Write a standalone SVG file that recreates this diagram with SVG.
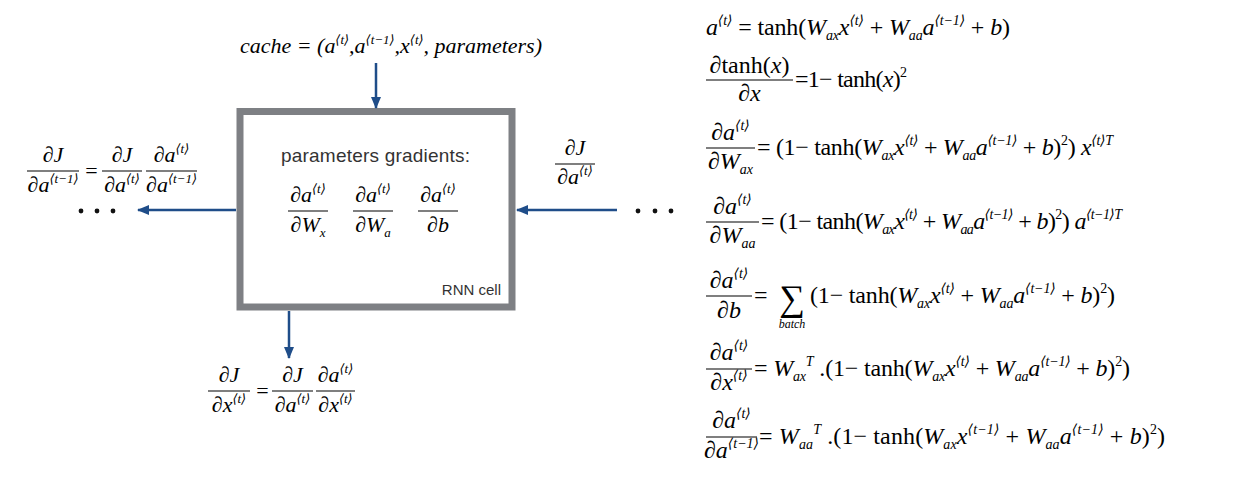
<svg xmlns="http://www.w3.org/2000/svg" width="1237" height="484" viewBox="0 0 1237 484">
<style>
.m{font-family:"Liberation Serif","DejaVu Serif",serif;fill:#000}
.r{font-size:24px}
.f{font-size:22px}
.i{font-style:italic}
.sp{font-size:14px}
.sb{font-size:14px}
.s2{font-size:13px}
.bar{stroke:#000;stroke-width:1.2}
.con{stroke:#1f4d89;stroke-width:2.5;fill:none}
.dot{fill:#111}
.sans{font-family:"Liberation Sans","Helvetica",Arial,sans-serif;fill:#333}
</style>
<defs>
<marker id="ah" viewBox="0 0 12 10" refX="11" refY="5" markerWidth="12" markerHeight="10" orient="auto" markerUnits="userSpaceOnUse"><path d="M0,0 L12,5 L0,10 z" fill="#1f4d89"/></marker>
</defs>
<rect width="1237" height="484" fill="#fff"/>

<g id="rnn-cell">
<rect x="240" y="111.5" width="272" height="195.5" fill="#fff" stroke="#7e8084" stroke-width="7"/>
<text class="sans" x="281" y="162" font-size="19" textLength="189">parameters gradients:</text>
<text class="m f" x="308" y="202" text-anchor="middle">∂<tspan class="i">a</tspan><tspan class="s2 i" dy="-9">⟨t⟩</tspan></text>
<line class="bar" x1="288" y1="211" x2="328" y2="211"/>
<text class="m f" x="308" y="232" text-anchor="middle">∂<tspan class="i">W</tspan><tspan class="s2 i" dy="5">x</tspan></text>
<text class="m f" x="373" y="202" text-anchor="middle">∂<tspan class="i">a</tspan><tspan class="s2 i" dy="-9">⟨t⟩</tspan></text>
<line class="bar" x1="353" y1="211" x2="393" y2="211"/>
<text class="m f" x="373" y="232" text-anchor="middle">∂<tspan class="i">W</tspan><tspan class="s2 i" dy="5">a</tspan></text>
<text class="m f" x="438" y="202" text-anchor="middle">∂<tspan class="i">a</tspan><tspan class="s2 i" dy="-9">⟨t⟩</tspan></text>
<line class="bar" x1="418" y1="211" x2="458" y2="211"/>
<text class="m f" x="438" y="232" text-anchor="middle">∂<tspan class="i">b</tspan></text>
<text class="sans" x="501" y="295" font-size="15" text-anchor="end">RNN cell</text>
</g>

<g id="cache-label">
<text class="m i" x="240" y="53" font-size="22" textLength="302">cache = (a<tspan class="s2" dy="-9">⟨t⟩</tspan><tspan dy="9">,a</tspan><tspan class="s2" dy="-9">⟨t−1⟩</tspan><tspan dy="9">,x</tspan><tspan class="s2" dy="-9">⟨t⟩</tspan><tspan dy="9">, parameters)</tspan></text>
</g>

<g id="dJ-da-prev">
<text class="m f" x="53" y="162" text-anchor="middle">∂<tspan class="i">J</tspan></text>
<line class="bar" x1="27" y1="171" x2="79" y2="171"/>
<text class="m f" x="53" y="192" text-anchor="middle">∂<tspan class="i">a</tspan><tspan class="s2 i" dy="-9">⟨t−1⟩</tspan></text>
<text class="m f" x="91.5" y="178" text-anchor="middle">=</text>
<text class="m f" x="122" y="162" text-anchor="middle">∂<tspan class="i">J</tspan></text>
<line class="bar" x1="102" y1="171" x2="142" y2="171"/>
<text class="m f" x="122" y="192" text-anchor="middle">∂<tspan class="i">a</tspan><tspan class="s2 i" dy="-9">⟨t⟩</tspan></text>
<text class="m f" x="171.5" y="162" text-anchor="middle">∂<tspan class="i">a</tspan><tspan class="s2 i" dy="-9">⟨t⟩</tspan></text>
<line class="bar" x1="146" y1="171" x2="197" y2="171"/>
<text class="m f" x="171.5" y="192" text-anchor="middle">∂<tspan class="i">a</tspan><tspan class="s2 i" dy="-9">⟨t−1⟩</tspan></text>
</g>

<g id="dJ-dx">
<text class="m f" x="229" y="382" text-anchor="middle">∂<tspan class="i">J</tspan></text>
<line class="bar" x1="208" y1="391" x2="250" y2="391"/>
<text class="m f" x="229" y="412" text-anchor="middle">∂<tspan class="i">x</tspan><tspan class="s2 i" dy="-9">⟨t⟩</tspan></text>
<text class="m f" x="262.5" y="398" text-anchor="middle">=</text>
<text class="m f" x="292.5" y="382" text-anchor="middle">∂<tspan class="i">J</tspan></text>
<line class="bar" x1="272" y1="391" x2="313" y2="391"/>
<text class="m f" x="292.5" y="412" text-anchor="middle">∂<tspan class="i">a</tspan><tspan class="s2 i" dy="-9">⟨t⟩</tspan></text>
<text class="m f" x="335.5" y="382" text-anchor="middle">∂<tspan class="i">a</tspan><tspan class="s2 i" dy="-9">⟨t⟩</tspan></text>
<line class="bar" x1="316" y1="391" x2="355" y2="391"/>
<text class="m f" x="335.5" y="412" text-anchor="middle">∂<tspan class="i">x</tspan><tspan class="s2 i" dy="-9">⟨t⟩</tspan></text>
</g>

<g id="dJ-da-in">
<text class="m f" x="575" y="155" text-anchor="middle">∂<tspan class="i">J</tspan></text>
<line class="bar" x1="555" y1="164" x2="595" y2="164"/>
<text class="m f" x="575" y="184" text-anchor="middle">∂<tspan class="i">a</tspan><tspan class="s2 i" dy="-9">⟨t⟩</tspan></text>
</g>

<g id="dots-left">
<circle class="dot" cx="81" cy="211" r="2.4"/><circle class="dot" cx="97" cy="211" r="2.4"/><circle class="dot" cx="113" cy="211" r="2.4"/>
</g>
<g id="dots-right">
<circle class="dot" cx="638" cy="211" r="2.4"/><circle class="dot" cx="655" cy="211" r="2.4"/><circle class="dot" cx="671" cy="211" r="2.4"/>
</g>

<g id="connectors">
<line class="con" x1="376" y1="63" x2="376" y2="108" marker-end="url(#ah)"/>
<line class="con" x1="236" y1="210" x2="138" y2="210" marker-end="url(#ah)"/>
<line class="con" x1="617" y1="210" x2="517" y2="210" marker-end="url(#ah)"/>
<line class="con" x1="289" y1="311" x2="289" y2="358" marker-end="url(#ah)"/>
</g>

<g id="equations">
<text class="m r" x="706" y="35" textLength="304"><tspan class="i">a</tspan><tspan class="sp i" dy="-10">⟨t⟩</tspan><tspan dy="10"> = tanh(</tspan><tspan class="i">W</tspan><tspan class="sb i" dy="5">ax</tspan><tspan class="i" dy="-5">x</tspan><tspan class="sp i" dy="-10">⟨t⟩</tspan><tspan dy="10"> + </tspan><tspan class="i">W</tspan><tspan class="sb i" dy="5">aa</tspan><tspan class="i" dy="-5">a</tspan><tspan class="sp i" dy="-10">⟨t−1⟩</tspan><tspan dy="10"> + </tspan><tspan class="i">b</tspan>)</text>

<text class="m r" x="749.5" y="73" text-anchor="middle">∂tanh(<tspan class="i">x</tspan>)</text>
<line class="bar" x1="706" y1="80" x2="793" y2="80"/>
<text class="m r" x="749.5" y="101" text-anchor="middle">∂<tspan class="i">x</tspan></text>
<text class="m r" x="795" y="87" textLength="112">=1− tanh(<tspan class="i">x</tspan>)<tspan class="sp" dy="-10">2</tspan></text>

<text class="m r" x="730.5" y="140" text-anchor="middle">∂<tspan class="i">a</tspan><tspan class="sp i" dy="-10">⟨t⟩</tspan></text>
<line class="bar" x1="706" y1="148" x2="755" y2="148"/>
<text class="m r" x="730.5" y="169" text-anchor="middle">∂<tspan class="i">W</tspan><tspan class="sb i" dy="5">ax</tspan></text>
<text class="m r" x="757" y="155" textLength="356">= (1− tanh(<tspan class="i">W</tspan><tspan class="sb i" dy="5">ax</tspan><tspan class="i" dy="-5">x</tspan><tspan class="sp i" dy="-10">⟨t⟩</tspan><tspan dy="10"> + </tspan><tspan class="i">W</tspan><tspan class="sb i" dy="5">aa</tspan><tspan class="i" dy="-5">a</tspan><tspan class="sp i" dy="-10">⟨t−1⟩</tspan><tspan dy="10"> + </tspan><tspan class="i">b</tspan>)<tspan class="sp" dy="-10">2</tspan><tspan dy="10">) </tspan><tspan class="i">x</tspan><tspan class="sp i" dy="-10">⟨t⟩T</tspan></text>

<text class="m r" x="732.5" y="214" text-anchor="middle">∂<tspan class="i">a</tspan><tspan class="sp i" dy="-10">⟨t⟩</tspan></text>
<line class="bar" x1="706" y1="222" x2="759" y2="222"/>
<text class="m r" x="732.5" y="243" text-anchor="middle">∂<tspan class="i">W</tspan><tspan class="sb i" dy="5">aa</tspan></text>
<text class="m r" x="761" y="229" textLength="361">= (1− tanh(<tspan class="i">W</tspan><tspan class="sb i" dy="5">ax</tspan><tspan class="i" dy="-5">x</tspan><tspan class="sp i" dy="-10">⟨t⟩</tspan><tspan dy="10"> + </tspan><tspan class="i">W</tspan><tspan class="sb i" dy="5">aa</tspan><tspan class="i" dy="-5">a</tspan><tspan class="sp i" dy="-10">⟨t−1⟩</tspan><tspan dy="10"> + </tspan><tspan class="i">b</tspan>)<tspan class="sp" dy="-10">2</tspan><tspan dy="10">) </tspan><tspan class="i">a</tspan><tspan class="sp i" dy="-10">⟨t−1⟩T</tspan></text>

<text class="m r" x="729" y="288" text-anchor="middle">∂<tspan class="i">a</tspan><tspan class="sp i" dy="-10">⟨t⟩</tspan></text>
<line class="bar" x1="706" y1="296" x2="752" y2="296"/>
<text class="m r" x="729" y="318" text-anchor="middle">∂<tspan class="i">b</tspan></text>
<text class="m r" x="754" y="303">=</text>
<text class="m" x="792" y="310" font-size="36" text-anchor="middle">∑</text>
<text class="m i" x="792" y="328" font-size="12" text-anchor="middle">batch</text>
<text class="m r" x="810" y="303" textLength="305">(1− tanh(<tspan class="i">W</tspan><tspan class="sb i" dy="5">ax</tspan><tspan class="i" dy="-5">x</tspan><tspan class="sp i" dy="-10">⟨t⟩</tspan><tspan dy="10"> + </tspan><tspan class="i">W</tspan><tspan class="sb i" dy="5">aa</tspan><tspan class="i" dy="-5">a</tspan><tspan class="sp i" dy="-10">⟨t−1⟩</tspan><tspan dy="10"> + </tspan><tspan class="i">b</tspan>)<tspan class="sp" dy="-10">2</tspan><tspan dy="10">)</tspan></text>

<text class="m r" x="729" y="360" text-anchor="middle">∂<tspan class="i">a</tspan><tspan class="sp i" dy="-10">⟨t⟩</tspan></text>
<line class="bar" x1="706" y1="369" x2="752" y2="369"/>
<text class="m r" x="729" y="390" text-anchor="middle">∂<tspan class="i">x</tspan><tspan class="sp i" dy="-10">⟨t⟩</tspan></text>
<text class="m r" x="754" y="376" textLength="376">= <tspan class="i">W</tspan><tspan class="sb i" dy="5">ax</tspan><tspan class="sp i" dy="-15">T</tspan><tspan dy="10"> .(1− tanh(</tspan><tspan class="i">W</tspan><tspan class="sb i" dy="5">ax</tspan><tspan class="i" dy="-5">x</tspan><tspan class="sp i" dy="-10">⟨t⟩</tspan><tspan dy="10"> + </tspan><tspan class="i">W</tspan><tspan class="sb i" dy="5">aa</tspan><tspan class="i" dy="-5">a</tspan><tspan class="sp i" dy="-10">⟨t−1⟩</tspan><tspan dy="10"> + </tspan><tspan class="i">b</tspan>)<tspan class="sp" dy="-10">2</tspan><tspan dy="10">)</tspan></text>

<text class="m r" x="731.5" y="428" text-anchor="middle">∂<tspan class="i">a</tspan><tspan class="sp i" dy="-10">⟨t⟩</tspan></text>
<line class="bar" x1="706" y1="437" x2="757" y2="437"/>
<text class="m r" x="731.5" y="458" text-anchor="middle">∂<tspan class="i">a</tspan><tspan class="sp i" dy="-10">⟨t−1⟩</tspan></text>
<text class="m r" x="759" y="444" textLength="406">= <tspan class="i">W</tspan><tspan class="sb i" dy="5">aa</tspan><tspan class="sp i" dy="-15">T</tspan><tspan dy="10"> .(1− tanh(</tspan><tspan class="i">W</tspan><tspan class="sb i" dy="5">ax</tspan><tspan class="i" dy="-5">x</tspan><tspan class="sp i" dy="-10">⟨t−1⟩</tspan><tspan dy="10"> + </tspan><tspan class="i">W</tspan><tspan class="sb i" dy="5">aa</tspan><tspan class="i" dy="-5">a</tspan><tspan class="sp i" dy="-10">⟨t−1⟩</tspan><tspan dy="10"> + </tspan><tspan class="i">b</tspan>)<tspan class="sp" dy="-10">2</tspan><tspan dy="10">)</tspan></text>
</g>
</svg>
